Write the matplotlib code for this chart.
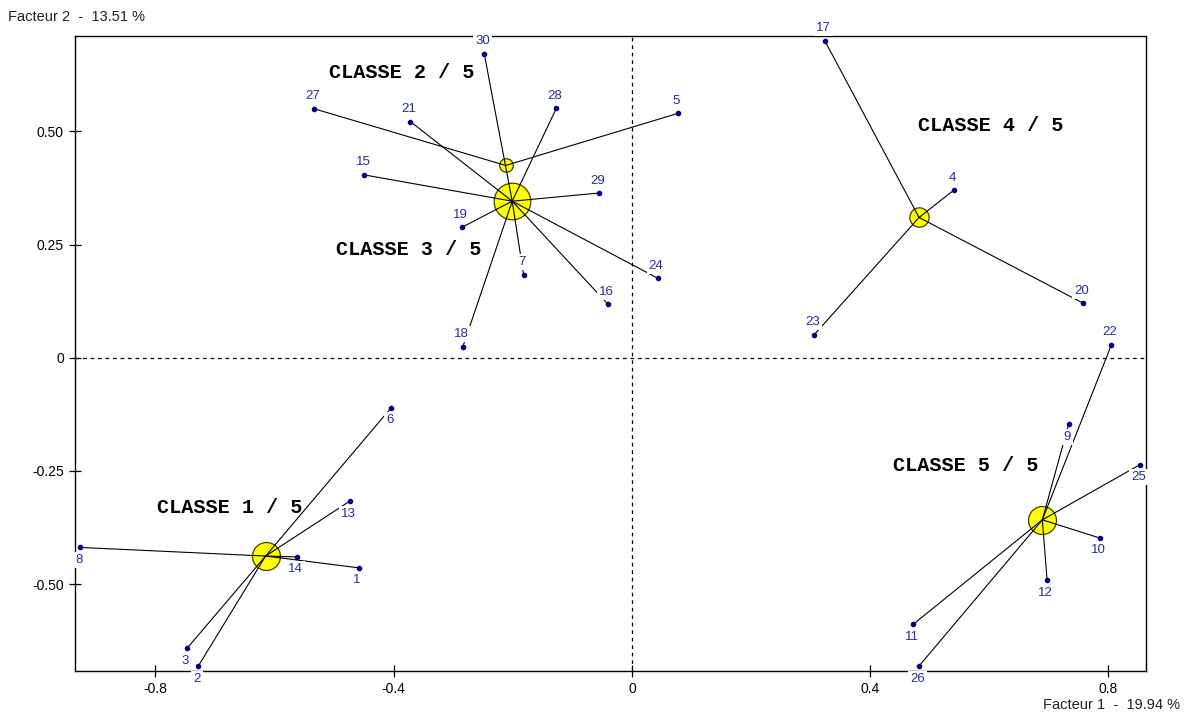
import numpy as np
import matplotlib
matplotlib.use("Agg")
import matplotlib.pyplot as plt

# individus : numero, facteur 1, facteur 2, classe
ids = [1, 2, 3, 6, 8, 13, 14,
       27, 5,
       30, 21, 28, 15, 29, 19, 7, 24, 16, 18,
       17, 4, 20, 23,
       22, 9, 25, 10, 12, 11, 26]
f1 = [-0.459, -0.728, -0.747, -0.404, -0.926, -0.474, -0.563,
      -0.533, 0.077,
      -0.248, -0.372, -0.127, -0.449, -0.056, -0.286, -0.182, 0.043, -0.040, -0.284,
      0.324, 0.540, 0.757, 0.306,
      0.805, 0.733, 0.853, 0.785, 0.697, 0.472, 0.482]
f2 = [-0.464, -0.681, -0.642, -0.110, -0.419, -0.317, -0.440,
      0.550, 0.540,
      0.672, 0.522, 0.551, 0.404, 0.364, 0.288, 0.184, 0.176, 0.118, 0.024,
      0.700, 0.370, 0.121, 0.051,
      0.029, -0.147, -0.236, -0.398, -0.492, -0.589, -0.681]
classe = [1, 1, 1, 1, 1, 1, 1,
          2, 2,
          3, 3, 3, 3, 3, 3, 3, 3, 3, 3,
          4, 4, 4, 4,
          5, 5, 5, 5, 5, 5, 5]

# centres de classes
centre_f1 = [-0.615, -0.212, -0.201, 0.482, 0.689]
centre_f2 = [-0.438, 0.425, 0.346, 0.310, -0.358]
noms = ["CLASSE 1 / 5", "CLASSE 2 / 5", "CLASSE 3 / 5", "CLASSE 4 / 5", "CLASSE 5 / 5"]

xticks = [-0.8, -0.4, 0, 0.4, 0.8]
yticks = [-0.50, -0.25, 0, 0.25, 0.50]
ytick_labels = ["-0.50", "-0.25", "0", "0.25", "0.50"]

# position des etiquettes de classes (coin gauche)
pos_noms = [(-0.797, -0.331), (-0.508, 0.631), (-0.496, 0.239), (0.481, 0.513), (0.439, -0.239)]

plt.rcParams['font.family'] = ['Liberation Sans', 'DejaVu Sans']

fig = plt.figure(figsize=(11.85, 7.13), dpi=100)
ax = fig.add_axes([75 / 1185, 1 - 671 / 713, (1146 - 75) / 1185, (671 - 36) / 713])
ax.set_xlim(-0.935, 0.863)
ax.set_ylim(-0.692, 0.711)

ax.axhline(0, color='black', lw=0.9, ls=(0, (3, 3)), zorder=1)
ax.axvline(0, color='black', lw=0.9, ls=(0, (3, 3)), zorder=1)

classe = np.array(classe)
for k in range(5):
    n = np.sum(classe == k + 1)
    r_px = 3.9 + 1.44 * n
    ax.plot(centre_f1[k], centre_f2[k], 'o', ms=2 * r_px * 0.72,
            mfc='#ffff00', mec='#404000', mew=0.9, zorder=2)
    for i in np.where(classe == k + 1)[0]:
        ax.plot([centre_f1[k], f1[i]], [centre_f2[k], f2[i]],
                color='black', lw=0.8, zorder=3)
    x0, y0 = pos_noms[k]
    ax.text(x0, y0, noms[k], family='Liberation Mono', weight='bold',
            fontsize=14.5, va='center', ha='left', color='black', zorder=6)

for i in range(len(ids)):
    dy = 9 if f2[i] >= 0 else -9
    ax.annotate(str(ids[i]), (f1[i], f2[i]), xytext=(-1, dy), textcoords='offset points',
                ha='center', va='center', fontsize=9.5, color='#2a2aa0', zorder=4,
                bbox=dict(boxstyle='square,pad=0.15', fc='white', ec='none'),
                annotation_clip=False)
ax.plot(f1, f2, 'o', ms=3, color='#000080', zorder=5, clip_on=False)

ax.set_xticks(xticks)
ax.set_xticklabels(["-0.8", "-0.4", "0", "0.4", "0.8"])
ax.set_yticks(yticks)
ax.set_yticklabels(ytick_labels)
ax.tick_params(direction='inout', length=8, width=0.9, labelsize=10, pad=4)
for s in ax.spines.values():
    s.set_linewidth(1.0)

fig.text(8 / 1185, 1 - 17 / 713, "Facteur 2  -  13.51 %", fontsize=10.5, va='center', ha='left', color='#222222')
fig.text(1180 / 1185, 1 - 705 / 713, "Facteur 1  -  19.94 %", fontsize=10.5, va='center', ha='right', color='#222222')

fig.savefig("out.png", dpi=100)
